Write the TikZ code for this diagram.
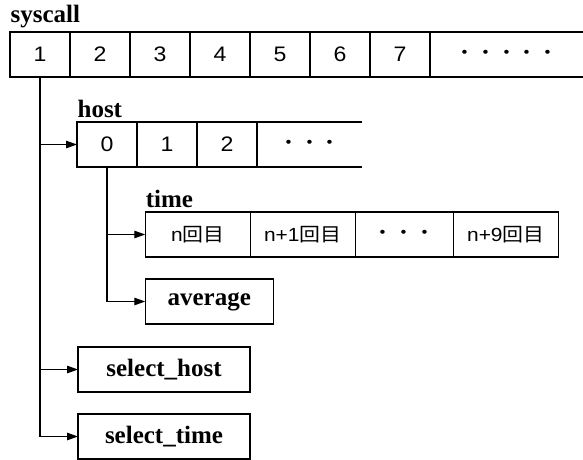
\documentclass[tikz,border=0pt]{standalone}
\usepackage{fontspec}
\setmainfont{Liberation Serif}
\newfontfamily\numfont{Liberation Sans}[FakeStretch=1.1]
\newfontfamily\cjkfont{Noto Sans CJK JP}[FakeStretch=1.1]
\usetikzlibrary{arrows.meta,positioning}
\newcommand\kaime{{\cjkfont 回目}}

\begin{document}
\begin{tikzpicture}[x=1pt, y=-1pt, line width=1.2pt, node distance=0pt,
  cell/.style={draw, outer sep=0pt, inner sep=0pt, minimum width=60pt, minimum height=45pt, font=\numfont\fontsize{21}{23}\selectfont},
  opencell/.style={cell, draw=none},
  tcell/.style={cell, minimum width=105pt, font=\numfont\fontsize{19}{21}\selectfont},
  box/.style={draw, outer sep=0pt, inner sep=0pt, minimum height=45pt, font=\bfseries\fontsize{25}{28}\selectfont},
  lbl/.style={anchor=south west, inner xsep=0pt, inner ysep=4pt, font=\bfseries\fontsize{25}{28}\selectfont},
  arr/.style={-{Triangle[length=11pt, width=7.5pt]}}]
\useasboundingbox (0,0) rectangle (583,459);
% syscall
\node[cell] (s1) at (40,54.5) {1};
\foreach \i [count=\j from 1] in {2,...,7}
  \node[cell, right=of s\j] (s\i) {\i};
\node[opencell, minimum width=153pt, right=of s7] (sd) {\cjkfont\fontsize{19}{20}\selectfont ・・・・・};
\draw (sd.north west) -- (sd.north east) (sd.south west) -- (sd.south east);
\node[lbl] (ls) at (s1.north west) {syscall};
% host
\node[cell] (h0) at (107,144.5) {0};
\foreach \i [count=\j from 0] in {1,2}
  \node[cell, right=of h\j] (h\i) {\i};
\node[opencell, minimum width=105pt, right=of h2] (hd) {\cjkfont\fontsize{19}{20}\selectfont ・・・};
\draw (hd.north west) -- (hd.north east) (hd.south west) -- (hd.south east);
\node[lbl] (lh) at (h0.north west) {host};
% time
\node[tcell] (t1) at (197.75,234.5) {n\kaime};
\node[tcell, right=of t1] (t2) {n+1\kaime};
\node[tcell, minimum width=98pt, right=of t2] (t3) {\cjkfont ・・・};
\node[tcell, right=of t3] (t4) {n+9\kaime};
\node[lbl] (lt) at (t1.north west) {time};
\node[box, minimum width=128pt, below=22pt of t1.south west, anchor=north west] (avg) {average};
% select
\node[box, minimum width=172pt] (selh) at (164,369.5) {select\_host};
\node[box, minimum width=172pt, below=22pt of selh] (selt) {select\_time};
\draw[arr] (s1.south) |- (h0.west);
\draw[arr] (s1.south) |- (selh.west);
\draw[arr] (s1.south) |- (selt.west);
\draw[arr] (h0.south) |- (t1.west);
\draw[arr] (h0.south) |- (avg.west);
\end{tikzpicture}
\end{document}
